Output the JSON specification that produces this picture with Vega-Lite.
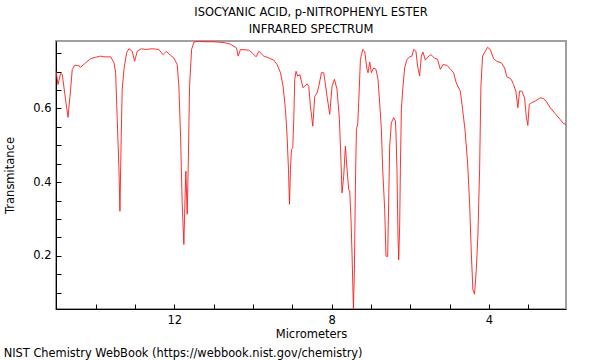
{
  "$schema": "https://vega.github.io/schema/vega-lite/v6.json",
  "padding": {"left": 3, "top": 6, "right": 30, "bottom": 4},
  "config": {
    "font": "DejaVu Sans",
    "view": {"stroke": "#a0a0a0", "strokeWidth": 2},
    "axis": {"grid": false, "domainColor": "#000000", "tickColor": "#000000", "labelColor": "#000000", "titleColor": "#000000", "labelFont": "DejaVu Sans", "titleFont": "DejaVu Sans", "titleFontWeight": "normal", "labelFontSize": 11.5, "titleFontSize": 11.5}
  },
  "title": {"text": "NIST Chemistry WebBook (https://webbook.nist.gov/chemistry)", "orient": "bottom", "anchor": "start", "frame": "bounds", "fontSize": 11.4, "fontWeight": "normal", "font": "DejaVu Sans", "color": "#000000", "offset": 7},
  "vconcat": [
    {
      "title": {"text": ["ISOCYANIC ACID, p-NITROPHENYL ESTER", "INFRARED SPECTRUM"], "anchor": "middle", "frame": "group", "fontSize": 11.5, "fontWeight": "normal", "font": "DejaVu Sans", "color": "#000000", "lineHeight": 16.5, "offset": 6},
      "width": 510,
      "height": 268,
      "data": {"values": [
        {"um": 15.01, "t": 0.701}, {"um": 14.959, "t": 0.665}, {"um": 14.891, "t": 0.695}, {"um": 14.85, "t": 0.692}, {"um": 14.789, "t": 0.642}, {"um": 14.705, "t": 0.576}, {"um": 14.654, "t": 0.633}, {"um": 14.596, "t": 0.706}, {"um": 14.535, "t": 0.717}, {"um": 14.451, "t": 0.717}, {"um": 14.382, "t": 0.712}, {"um": 14.255, "t": 0.724}, {"um": 14.128, "t": 0.735}, {"um": 14.001, "t": 0.739}, {"um": 13.874, "t": 0.742}, {"um": 13.79, "t": 0.74}, {"um": 13.62, "t": 0.74}, {"um": 13.536, "t": 0.724}, {"um": 13.493, "t": 0.697}, {"um": 13.453, "t": 0.57}, {"um": 13.409, "t": 0.435}, {"um": 13.384, "t": 0.321}, {"um": 13.351, "t": 0.525}, {"um": 13.326, "t": 0.652}, {"um": 13.282, "t": 0.706}, {"um": 13.214, "t": 0.751}, {"um": 13.155, "t": 0.762}, {"um": 13.071, "t": 0.755}, {"um": 13.01, "t": 0.728}, {"um": 12.944, "t": 0.755}, {"um": 12.843, "t": 0.762}, {"um": 12.731, "t": 0.76}, {"um": 12.563, "t": 0.762}, {"um": 12.393, "t": 0.76}, {"um": 12.291, "t": 0.746}, {"um": 12.208, "t": 0.755}, {"um": 12.096, "t": 0.744}, {"um": 12.012, "t": 0.737}, {"um": 11.928, "t": 0.719}, {"um": 11.885, "t": 0.66}, {"um": 11.842, "t": 0.525}, {"um": 11.801, "t": 0.344}, {"um": 11.758, "t": 0.231}, {"um": 11.732, "t": 0.344}, {"um": 11.707, "t": 0.43}, {"um": 11.674, "t": 0.313}, {"um": 11.649, "t": 0.435}, {"um": 11.613, "t": 0.66}, {"um": 11.562, "t": 0.76}, {"um": 11.504, "t": 0.78}, {"um": 11.377, "t": 0.782}, {"um": 11.224, "t": 0.781}, {"um": 11.039, "t": 0.781}, {"um": 10.869, "t": 0.78}, {"um": 10.698, "t": 0.778}, {"um": 10.571, "t": 0.774}, {"um": 10.419, "t": 0.764}, {"um": 10.378, "t": 0.742}, {"um": 10.317, "t": 0.76}, {"um": 10.106, "t": 0.758}, {"um": 10.022, "t": 0.751}, {"um": 9.921, "t": 0.74}, {"um": 9.852, "t": 0.755}, {"um": 9.725, "t": 0.742}, {"um": 9.598, "t": 0.737}, {"um": 9.471, "t": 0.731}, {"um": 9.387, "t": 0.719}, {"um": 9.301, "t": 0.697}, {"um": 9.235, "t": 0.66}, {"um": 9.174, "t": 0.597}, {"um": 9.133, "t": 0.525}, {"um": 9.098, "t": 0.435}, {"um": 9.072, "t": 0.34}, {"um": 9.047, "t": 0.435}, {"um": 9.022, "t": 0.489}, {"um": 8.989, "t": 0.493}, {"um": 8.963, "t": 0.57}, {"um": 8.938, "t": 0.679}, {"um": 8.905, "t": 0.701}, {"um": 8.862, "t": 0.688}, {"um": 8.811, "t": 0.692}, {"um": 8.727, "t": 0.656}, {"um": 8.625, "t": 0.667}, {"um": 8.582, "t": 0.66}, {"um": 8.539, "t": 0.606}, {"um": 8.48, "t": 0.552}, {"um": 8.43, "t": 0.633}, {"um": 8.371, "t": 0.642}, {"um": 8.328, "t": 0.66}, {"um": 8.259, "t": 0.697}, {"um": 8.201, "t": 0.697}, {"um": 8.117, "t": 0.633}, {"um": 8.049, "t": 0.584}, {"um": 7.99, "t": 0.66}, {"um": 7.929, "t": 0.679}, {"um": 7.863, "t": 0.652}, {"um": 7.802, "t": 0.57}, {"um": 7.761, "t": 0.452}, {"um": 7.736, "t": 0.371}, {"um": 7.693, "t": 0.416}, {"um": 7.65, "t": 0.498}, {"um": 7.609, "t": 0.435}, {"um": 7.566, "t": 0.38}, {"um": 7.54, "t": 0.376}, {"um": 7.507, "t": 0.299}, {"um": 7.482, "t": 0.208}, {"um": 7.446, "t": 0.056}, {"um": 7.421, "t": 0.163}, {"um": 7.396, "t": 0.389}, {"um": 7.37, "t": 0.543}, {"um": 7.337, "t": 0.559}, {"um": 7.312, "t": 0.615}, {"um": 7.268, "t": 0.733}, {"um": 7.21, "t": 0.76}, {"um": 7.159, "t": 0.755}, {"um": 7.101, "t": 0.706}, {"um": 7.075, "t": 0.697}, {"um": 7.032, "t": 0.726}, {"um": 6.989, "t": 0.697}, {"um": 6.931, "t": 0.71}, {"um": 6.872, "t": 0.706}, {"um": 6.821, "t": 0.679}, {"um": 6.778, "t": 0.615}, {"um": 6.735, "t": 0.543}, {"um": 6.702, "t": 0.435}, {"um": 6.651, "t": 0.326}, {"um": 6.618, "t": 0.199}, {"um": 6.575, "t": 0.199}, {"um": 6.55, "t": 0.344}, {"um": 6.524, "t": 0.498}, {"um": 6.481, "t": 0.561}, {"um": 6.423, "t": 0.575}, {"um": 6.379, "t": 0.566}, {"um": 6.364, "t": 0.534}, {"um": 6.339, "t": 0.435}, {"um": 6.313, "t": 0.254}, {"um": 6.295, "t": 0.189}, {"um": 6.27, "t": 0.281}, {"um": 6.252, "t": 0.435}, {"um": 6.227, "t": 0.597}, {"um": 6.186, "t": 0.66}, {"um": 6.143, "t": 0.71}, {"um": 6.085, "t": 0.733}, {"um": 6.016, "t": 0.74}, {"um": 5.958, "t": 0.742}, {"um": 5.914, "t": 0.76}, {"um": 5.856, "t": 0.755}, {"um": 5.813, "t": 0.715}, {"um": 5.762, "t": 0.688}, {"um": 5.719, "t": 0.742}, {"um": 5.678, "t": 0.753}, {"um": 5.617, "t": 0.731}, {"um": 5.551, "t": 0.74}, {"um": 5.475, "t": 0.746}, {"um": 5.388, "t": 0.737}, {"um": 5.305, "t": 0.733}, {"um": 5.236, "t": 0.706}, {"um": 5.17, "t": 0.719}, {"um": 5.068, "t": 0.717}, {"um": 4.982, "t": 0.707}, {"um": 4.898, "t": 0.697}, {"um": 4.83, "t": 0.669}, {"um": 4.728, "t": 0.647}, {"um": 4.669, "t": 0.597}, {"um": 4.609, "t": 0.543}, {"um": 4.542, "t": 0.452}, {"um": 4.492, "t": 0.344}, {"um": 4.448, "t": 0.208}, {"um": 4.408, "t": 0.109}, {"um": 4.365, "t": 0.096}, {"um": 4.321, "t": 0.163}, {"um": 4.281, "t": 0.254}, {"um": 4.237, "t": 0.435}, {"um": 4.204, "t": 0.66}, {"um": 4.161, "t": 0.742}, {"um": 4.092, "t": 0.755}, {"um": 4.034, "t": 0.766}, {"um": 3.966, "t": 0.76}, {"um": 3.882, "t": 0.735}, {"um": 3.798, "t": 0.728}, {"um": 3.686, "t": 0.724}, {"um": 3.602, "t": 0.71}, {"um": 3.544, "t": 0.686}, {"um": 3.483, "t": 0.683}, {"um": 3.432, "t": 0.679}, {"um": 3.374, "t": 0.665}, {"um": 3.315, "t": 0.647}, {"um": 3.264, "t": 0.602}, {"um": 3.221, "t": 0.647}, {"um": 3.163, "t": 0.647}, {"um": 3.094, "t": 0.629}, {"um": 3.051, "t": 0.579}, {"um": 3.01, "t": 0.554}, {"um": 2.975, "t": 0.611}, {"um": 2.924, "t": 0.615}, {"um": 2.822, "t": 0.62}, {"um": 2.695, "t": 0.629}, {"um": 2.612, "t": 0.627}, {"um": 2.528, "t": 0.617}, {"um": 2.441, "t": 0.602}, {"um": 2.314, "t": 0.586}, {"um": 2.187, "t": 0.57}, {"um": 2.103, "t": 0.559}, {"um": 2.04, "t": 0.557}
      ]},
      "mark": {"type": "line", "color": "#ff1a1a", "strokeWidth": 0.9, "clip": true},
      "encoding": {
        "x": {"field": "um", "type": "quantitative", "sort": null,
          "scale": {"domain": [2.04, 15.01], "reverse": true, "nice": false, "zero": false},
          "axis": {"title": "Micrometers", "values": [3, 4, 5, 6, 7, 8, 9, 10, 11, 12, 13, 14], "labelExpr": "datum.value % 4 === 0 ? datum.label : ''", "tickSize": -5, "labelPadding": 10, "titlePadding": 3, "domainWidth": 1, "labelFlush": false}},
        "y": {"field": "t", "type": "quantitative",
          "scale": {"domain": [0.056, 0.783], "nice": false, "zero": false},
          "axis": {"title": "Transmitance", "values": [0.1, 0.15, 0.2, 0.25, 0.3, 0.35, 0.4, 0.45, 0.5, 0.55, 0.6, 0.65, 0.7, 0.75], "labelExpr": "indexof([0.2, 0.4, 0.6], datum.value) >= 0 ? format(datum.value, '.1f') : ''", "tickSize": -5, "labelPadding": 10, "titlePadding": 17, "domainWidth": 1, "labelFlush": false}}
      }
    }
  ]
}
